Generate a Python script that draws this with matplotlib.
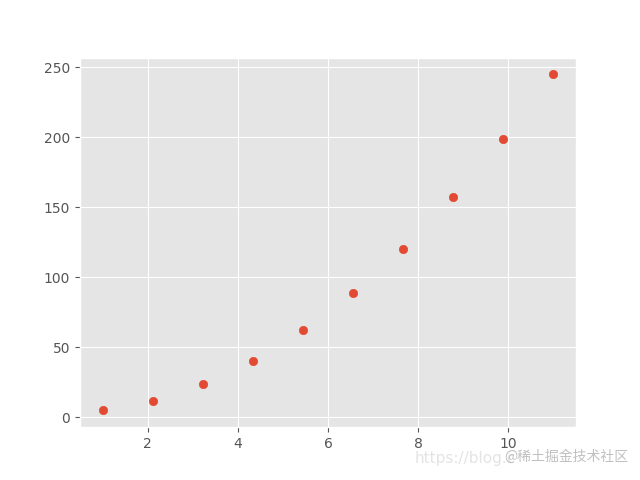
import matplotlib.pyplot as plt

plt.style.use("ggplot")

x = [1.0, 2.11, 3.22, 4.33, 5.44, 6.56, 7.67, 8.78, 9.89, 11.0]
y = [5.0, 11.9, 23.7, 40.5, 62.2, 89.0, 120.6, 157.1, 198.6, 245.0]

fig, ax = plt.subplots(figsize=(6.4, 4.8), dpi=100)
ax.scatter(x, y)

# watermark of the source page
fig.text(0.648, 0.035, "https://blog.c", color="#e4e4e4", fontsize=11)
fig.text(0.788, 0.04, "@稀土掘金技术社区", color="#c0c0c0", fontsize=10,
         family=['Noto Sans CJK SC', 'DejaVu Sans'])

plt.savefig("out.png")
